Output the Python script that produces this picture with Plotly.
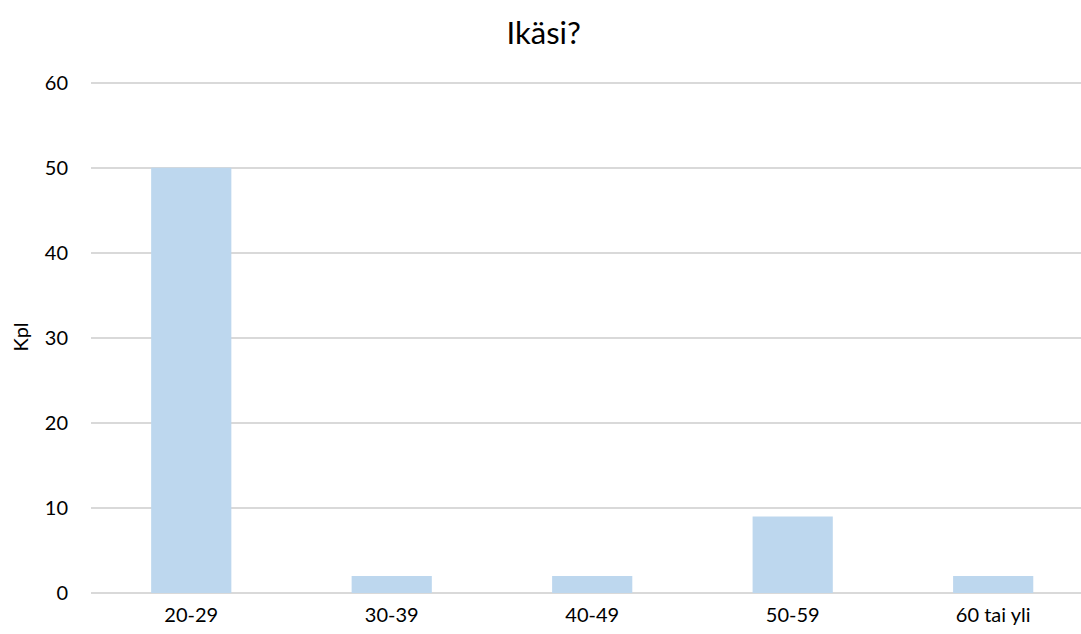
import plotly.graph_objects as go

# Age groups and number of respondents
categories = ["20-29", "30-39", "40-49", "50-59", "60 tai yli"]
counts = [50, 2, 2, 9, 2]
y_ticks = [0, 10, 20, 30, 40, 50, 60]

FONT = "Lato, Open Sans, sans-serif"
GRID = "#D9D9D9"

fig = go.Figure(
    go.Bar(
        x=categories,
        y=counts,
        width=0.4,
        marker=dict(color="#BDD7EE", line=dict(width=0)),
        hoverinfo="x+y",
    )
)

fig.update_layout(
    width=1081,
    height=634,
    margin=dict(l=91, r=0, t=81, b=41),
    paper_bgcolor="white",
    plot_bgcolor="white",
    showlegend=False,
    font=dict(family=FONT, color="#000000", size=20),
    title=dict(
        text="Ikäsi?",
        x=0.503,
        xanchor="center",
        y=0.948,
        yanchor="middle",
        font=dict(family=FONT, size=31, color="#000000"),
    ),
)

fig.update_xaxes(
    type="category",
    range=[-0.5, 4.438],
    showgrid=False,
    showline=False,
    zeroline=False,
    ticks="outside",
    ticklen=4,
    tickcolor="rgba(0,0,0,0)",
    tickfont=dict(family=FONT, size=20, color="#000000"),
)

fig.update_yaxes(
    range=[0, 60.2],
    tickvals=y_ticks,
    showgrid=True,
    gridcolor=GRID,
    gridwidth=1.5,
    zeroline=True,
    zerolinecolor=GRID,
    zerolinewidth=2,
    showline=False,
    ticks="outside",
    ticklen=18,
    tickcolor="rgba(0,0,0,0)",
    tickfont=dict(family=FONT, size=20, color="#000000"),
    title=dict(text="Kpl", font=dict(family=FONT, size=20, color="#000000"), standoff=10),
)

fig.write_html("out.html")
